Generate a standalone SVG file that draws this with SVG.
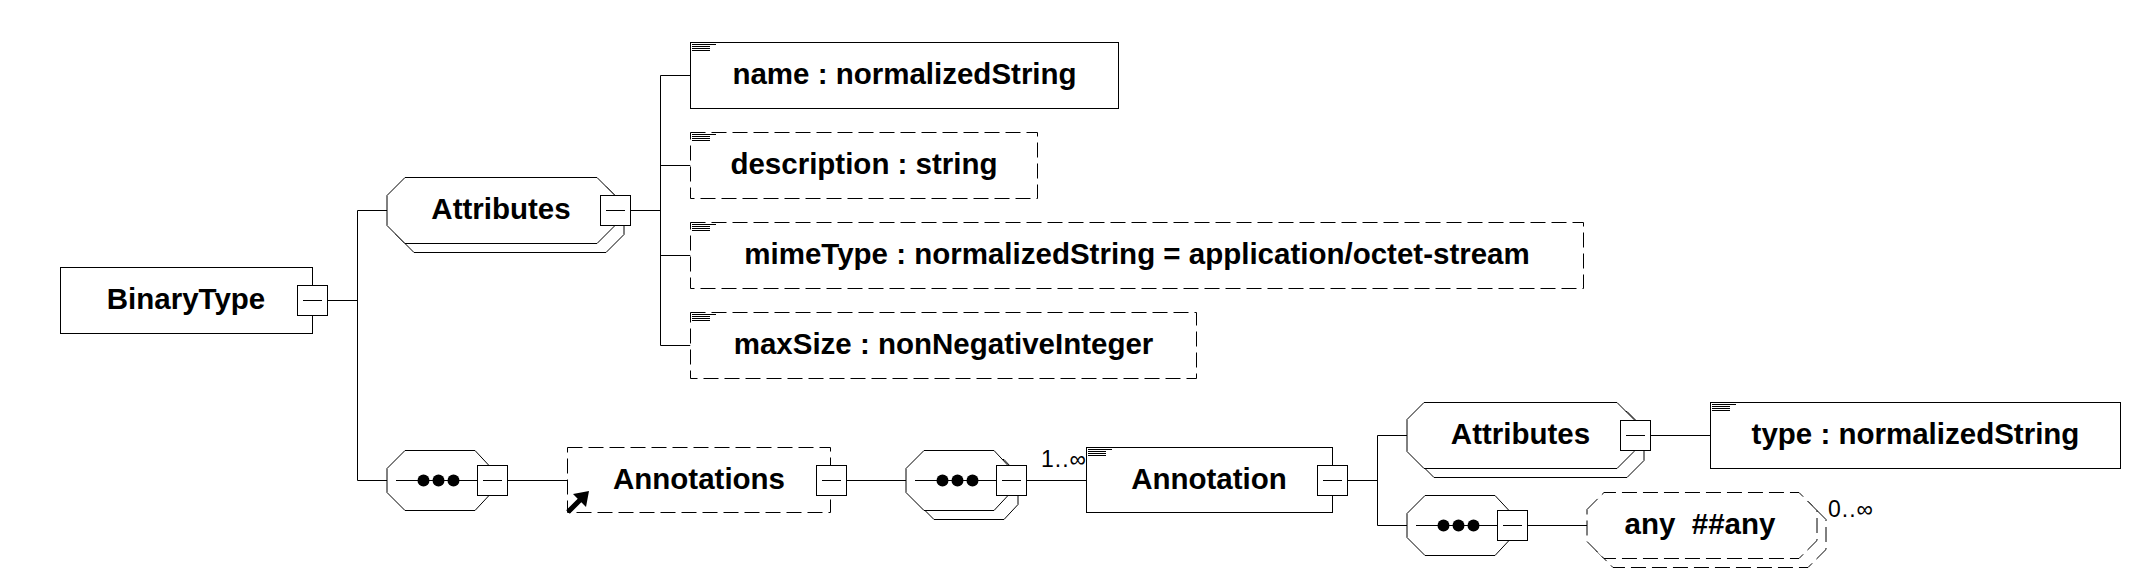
<svg xmlns="http://www.w3.org/2000/svg" xmlns:xlink="http://www.w3.org/1999/xlink" width="2151" height="570" viewBox="0 0 2151 570">
<style>
.b{fill:#fff;stroke:#000;stroke-width:1}
.d{stroke-dasharray:15 6}
.l{fill:none;stroke:#000;stroke-width:1}
.t{font-family:"Liberation Sans",Arial,sans-serif;font-weight:bold;font-size:29.5px;text-anchor:middle;fill:#000}
.m{font-family:"Liberation Sans",Arial,sans-serif;font-size:23px;fill:#000;letter-spacing:1px}
</style>
<defs>
<g id="minus"><rect class="b" x="0.5" y="0.5" width="30" height="30"/><path class="l" d="M6 15.5H25"/></g>
<path id="icon" class="l" d="M2 2.5H26M2 4.5H20M2 6.5H20M2 8.5H20"/>
<g id="seq">
<polygon class="b" points="0,18 18,0 88,0 102,15 102,45 88,60 18,60 0,42"/>
<path class="l" d="M9 30H91"/>
<circle cx="36.5" cy="30" r="6"/><circle cx="51.5" cy="30" r="6"/><circle cx="66.5" cy="30" r="6"/>
<rect class="b" x="90.5" y="15" width="30" height="30"/><path class="l" d="M96 30H115"/>
</g>
<polygon id="seqShadow" class="b" points="0,18 18,0 88,0 102,15 102,45 88,60 18,60 0,42"/>
</defs>

<g id="connectors">
<path class="l" d="M327.5 300.5H357.5M357.5 210.5V480.5M357.5 210.5H387M357.5 480.5H387"/>
<path class="l" d="M630.5 210.5H660.5M660.5 75.5V345.5M660.5 75.5H690.5M660.5 165.5H690.5M660.5 255.5H690.5M660.5 345.5H690.5"/>
<path class="l" d="M507.5 480.5H567.5M846.5 480.5H906M1026.5 480.5H1086.5M1347.5 480.5H1377.5"/>
<path class="l" d="M1377.5 435.5V525.5M1377.5 435.5H1407M1377.5 525.5H1407M1650.5 435.5H1710.5M1527.5 525.5H1587"/>
</g>

<g id="BinaryType">
<rect class="b" x="60.5" y="267.5" width="252" height="66"/>
<text class="t" x="186" y="308.5">BinaryType</text>
<use xlink:href="#minus" x="297" y="285"/>
</g>

<g id="Attributes1">
<polygon class="b" points="396,204.5 414,186.5 606,186.5 624,204.5 624,234.5 606,252.5 414,252.5 396,234.5"/>
<polygon class="b" points="387,195.5 405,177.5 597,177.5 615,195.5 615,225.5 597,243.5 405,243.5 387,225.5"/>
<text class="t" x="501" y="218.5">Attributes</text>
<use xlink:href="#minus" x="600" y="195"/>
</g>

<g id="attr-name">
<rect class="b" x="690.5" y="42.5" width="428" height="66"/>
<use xlink:href="#icon" x="690" y="42"/>
<text class="t" x="904.5" y="83.5">name : normalizedString</text>
</g>

<g id="attr-description">
<rect class="b d" x="690.5" y="132.5" width="347" height="66"/>
<use xlink:href="#icon" x="690" y="132"/>
<text class="t" x="864" y="173.5">description : string</text>
</g>

<g id="attr-mimeType">
<rect class="b d" x="690.5" y="222.5" width="893" height="66"/>
<use xlink:href="#icon" x="690" y="222"/>
<text class="t" x="1137" y="263.5">mimeType : normalizedString = application/octet-stream</text>
</g>

<g id="attr-maxSize">
<rect class="b d" x="690.5" y="312.5" width="506" height="66"/>
<use xlink:href="#icon" x="690" y="312"/>
<text class="t" x="943.5" y="353.5">maxSize : nonNegativeInteger</text>
</g>

<g id="sequence1">
<use xlink:href="#seq" x="387" y="450.5"/>
</g>

<g id="Annotations">
<rect class="b d" x="567.5" y="447.5" width="263" height="65"/>
<polygon points="589,491 586,507 581.3,502.3 569.8,513.8 566.2,510.2 577.7,498.7 573,494" fill="#000"/>
<text class="t" x="699" y="488.5">Annotations</text>
<use xlink:href="#minus" x="816" y="465"/>
</g>

<g id="sequence2">
<use xlink:href="#seqShadow" x="916" y="459.5"/>
<use xlink:href="#seq" x="906" y="450.5"/>
</g>

<g id="Annotation">
<rect class="b" x="1086.5" y="447.5" width="246" height="65"/>
<use xlink:href="#icon" x="1086" y="447"/>
<text class="t" x="1209" y="488.5">Annotation</text>
<use xlink:href="#minus" x="1317" y="465"/>
<text class="m" x="1041" y="467">1..∞</text>
</g>

<g id="Attributes2">
<polygon class="b" points="1417,420.5 1434,411.5 1627,411.5 1644,428.5 1644,460.5 1627,477.5 1434,477.5 1417,460.5"/>
<polygon class="b" points="1407,419.5 1424,402.5 1617,402.5 1634,419.5 1634,451.5 1617,468.5 1424,468.5 1407,451.5"/>
<text class="t" x="1520.5" y="443.5">Attributes</text>
<use xlink:href="#minus" x="1620" y="420"/>
</g>

<g id="attr-type">
<rect class="b" x="1710.5" y="402.5" width="410" height="66"/>
<use xlink:href="#icon" x="1710" y="402"/>
<text class="t" x="1915.5" y="443.5">type : normalizedString</text>
</g>

<g id="sequence3">
<use xlink:href="#seq" x="1407" y="495.5"/>
</g>

<g id="any">
<polygon class="b d" points="1596,518.5 1613,501.5 1808,501.5 1826,519.5 1826,549.5 1808,567.5 1613,567.5 1596,550.5"/>
<polygon class="b d" points="1587,509.5 1604,492.5 1799,492.5 1817,510.5 1817,540.5 1799,558.5 1604,558.5 1587,541.5"/>
<text class="t" x="1700" y="533.5" xml:space="preserve" style="white-space:pre">any  ##any</text>
<text class="m" x="1828" y="516.5">0..∞</text>
</g>
</svg>
